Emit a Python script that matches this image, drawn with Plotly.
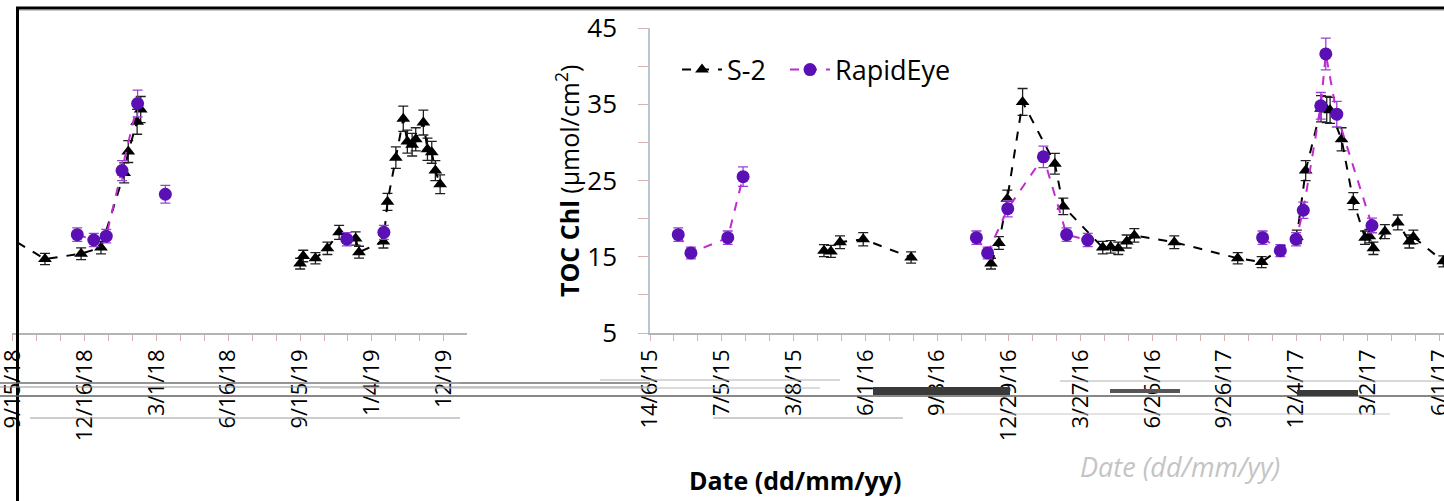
import plotly.graph_objects as go

# ---------------- data (x in months from the first labelled tick of each panel) ----------------
# Left panel
left_s2_x = [-3.46, -1.66, -0.15, 0.68, 1.65, 1.82, 2.19, 2.34, None,
             9.00, 9.13, 9.64, 10.14, 10.63, 11.32, 11.46, 12.48, 12.65, 13.00, 13.31,
             13.48, 13.68, 13.83, 14.15, 14.32, 14.50, 14.65, 14.85]
left_s2_y = [18.1, 14.7, 15.4, 16.2, 26.0, 28.8, 32.7, 34.3, None,
             14.1, 15.1, 14.8, 16.1, 18.2, 17.4, 15.6, 17.0, 22.2, 28.0, 33.1,
             30.1, 29.7, 30.4, 32.6, 29.1, 28.7, 26.3, 24.5]
left_re_x = [-0.31, 0.38, 0.90, 1.56, 2.21, None, 3.37, None, 10.95, None, 12.50]
left_re_y = [17.9, 17.2, 17.7, 26.3, 35.1, None, 23.2, None, 17.3, None, 18.2]

# Right panel
right_s2_x = [7.27, 7.56, 7.94, 8.91, 10.91, None,
              14.25, 14.58, 14.93, 15.57, 16.92, 17.27, 18.92, 19.25, 19.57, 19.92, 20.24,
              21.91, 24.56, 25.56, 27.03, 27.40, 28.04, 28.28, 28.42, 28.90, 29.39, 29.88,
              30.06, 30.23, 30.71, 31.25, 31.73, 31.90, 33.15]
right_s2_y = [15.8, 15.7, 16.9, 17.3, 14.9, None,
              14.1, 16.8, 22.6, 35.3, 27.2, 21.6, 16.2, 16.3, 16.1, 17.0, 17.8,
              16.9, 14.8, 14.3, 17.6, 26.3, 34.4, 34.3, 34.2, 30.4, 22.3, 17.5,
              17.7, 16.1, 18.3, 19.5, 17.0, 17.6, 14.4]
right_re_x = [1.18, 1.71, 3.25, 3.89, None,
              13.64, 14.11, 14.95, 16.44, 17.41, 18.29, None,
              25.60, 26.34, 27.00, 27.30, 28.03, 28.24, 28.70, 30.17]
right_re_y = [17.9, 15.5, 17.5, 25.5, None,
              17.5, 15.5, 21.3, 28.1, 17.9, 17.2, None,
              17.5, 15.8, 17.3, 21.1, 34.8, 41.6, 33.7, 19.1]

left_tickvals = [-3, 0, 3, 6, 9, 12, 15]
left_ticktext = ["9/15/18", "12/16/18", "3/1/18", "6/16/18", "9/15/19", "1/4/19", "12/19"]
right_tickvals = [0, 3, 6, 9, 12, 15, 18, 21, 24, 27, 30, 33]
right_ticktext = ["14/6/15", "7/5/15", "3/8/15", "6/1/16", "9/3/16", "12/29/16",
                  "3/27/16", "6/26/16", "9/26/17", "12/4/17", "3/2/17", "6/1/17"]
y_tickvals = [5, 15, 25, 35, 45]

# ---------------- styling ----------------
W, H = 1444, 501
FONT = "Open Sans"
S2_COL = "black"
RE_MARK = "#5a10b4"
RE_LINE = "#c02cd0"

def px(x):
    return x / W

def py(y):
    return 1 - y / H

fig = go.Figure()

def add_series(x, y, xa, ya, name, show):
    if name == "S-2":
        fig.add_trace(go.Scatter(
            x=x, y=y, xaxis=xa, yaxis=ya, name=name, showlegend=show, legendgroup=name,
            legend="legend",
            mode="lines+markers", connectgaps=False,
            line=dict(color=S2_COL, width=2, dash="dash"),
            marker=dict(symbol="triangle-up", size=12, color=S2_COL),
            error_y=dict(type="percent", value=5, color="#202020", thickness=1.3, width=5),
            cliponaxis=True))
    else:
        fig.add_trace(go.Scatter(
            x=x, y=y, xaxis=xa, yaxis=ya, name=name, showlegend=show, legendgroup=name,
            legend="legend2",
            mode="lines+markers", connectgaps=False,
            line=dict(color=RE_LINE, width=2, dash="dash"),
            marker=dict(symbol="circle", size=13, color=RE_MARK),
            error_y=dict(type="percent", value=5, color="#9a40d8", thickness=1.3, width=5),
            cliponaxis=True))

add_series(left_s2_x, left_s2_y, "x", "y", "S-2", False)
add_series(left_re_x, left_re_y, "x", "y", "RapidEye", False)
add_series(right_s2_x, right_s2_y, "x2", "y2", "S-2", True)
add_series(right_re_x, right_re_y, "x2", "y2", "RapidEye", True)

ydom = [py(333), py(28)]
axis_line = "#b4b4b4"
tick_col = "#dbb0b0"

xtick_font = dict(size=22, family=FONT, color="black")
leg_font = dict(size=27, family=FONT, color="black")

fig.update_layout(
    template="none",
    width=W, height=H,
    margin=dict(l=0, r=0, t=0, b=0, pad=0, autoexpand=False),
    paper_bgcolor="white", plot_bgcolor="white",
    font=dict(family=FONT, color="black"),
    xaxis=dict(domain=[px(11.7), px(466.7)], range=[-3.05, 15.96], anchor="y", automargin=False,
               showgrid=False, zeroline=False, showline=True, linecolor=axis_line, linewidth=1.5,
               tickmode="array", tickvals=left_tickvals, ticktext=left_ticktext,
               tickangle=-90, ticks="outside", ticklen=6, tickcolor=tick_col,
               ticklabeloverflow="allow", tickfont=xtick_font,
               minor=dict(dtick=1, tick0=0, ticks="outside", ticklen=6, tickcolor=tick_col)),
    yaxis=dict(domain=ydom, range=[5, 45], anchor="x", visible=False, automargin=False),
    xaxis2=dict(domain=[px(650), 1.0], range=[0, 33.18], anchor="y2", automargin=False,
                showgrid=False, zeroline=False, showline=True, linecolor=axis_line, linewidth=1.5,
                tickmode="array", tickvals=right_tickvals, ticktext=right_ticktext,
                tickangle=-90, ticks="outside", ticklen=6, tickcolor=tick_col,
                ticklabeloverflow="allow", tickfont=xtick_font,
                minor=dict(dtick=1, tick0=0, ticks="outside", ticklen=6, tickcolor=tick_col)),
    yaxis2=dict(domain=ydom, range=[5, 45], anchor="x2", automargin=False,
                showgrid=False, zeroline=False, showline=True, linecolor="#b8c8cc", linewidth=1.5,
                tickmode="array", tickvals=y_tickvals,
                ticks="outside", ticklen=10, tickcolor=tick_col, ticklabelstandoff=16,
                tickfont=dict(size=26, family=FONT, color="black"),
                minor=dict(dtick=5, tick0=0, ticks="outside", ticklen=10, tickcolor=tick_col)),
    legend=dict(orientation="h", x=px(677), y=py(70), xanchor="left", yanchor="middle",
                font=leg_font, bgcolor="rgba(0,0,0,0)", itemwidth=40),
    legend2=dict(orientation="h", x=px(785), y=py(70), xanchor="left", yanchor="middle",
                 font=leg_font, bgcolor="rgba(0,0,0,0)", itemwidth=40),
)

# y-axis title
fig.add_annotation(text="<b>TOC Chl</b> (µmol/cm<sup>2</sup>)", textangle=-90,
                   x=px(567), y=py(181), xref="paper", yref="paper", showarrow=False,
                   xanchor="center", yanchor="middle",
                   font=dict(size=25, family=FONT, color="black"))
# x-axis title (bold) and ghost copy
fig.add_annotation(text="<b>Date (dd/mm/yy)</b>", x=px(795), y=py(480), xref="paper", yref="paper",
                   xanchor="center", yanchor="middle",
                   showarrow=False, font=dict(size=25, family=FONT, color="black"))
fig.add_annotation(text="<i>Date (dd/mm/yy)</i>", x=px(1180), y=py(466), xref="paper", yref="paper",
                   xanchor="center", yanchor="middle",
                   showarrow=False, font=dict(size=27, family=FONT, color="#c4c4c4"))

shapes = []
# frame border
shapes.append(dict(type="line", xref="paper", yref="paper", x0=px(16), x1=1.0, y0=py(8), y1=py(8),
                   line=dict(color="black", width=3), layer="above"))
shapes.append(dict(type="line", xref="paper", yref="paper", x0=px(17.5), x1=px(17.5), y0=py(7), y1=0,
                   line=dict(color="black", width=3), layer="above"))
shapes.append(dict(type="line", xref="paper", yref="paper", x0=px(19), x1=1.0, y0=py(10.5), y1=py(10.5),
                   line=dict(color="#c8c8c8", width=1), layer="above"))
# glitch streaks across the tick-label band
glitch = [
    (0, 1444, 396, "#606060", 1.5),
    (0, 650, 383, "#707070", 1.5),
    (0, 650, 387, "#909090", 1),
    (30, 460, 418, "#9a9a9a", 1),
    (713, 903, 418, "#9a9a9a", 1),
    (940, 1390, 414, "#c8c8c8", 1),
    (600, 840, 380, "#b0b0b0", 1),
    (1060, 1444, 381, "#b0b0b0", 1),
    (320, 820, 388, "#b8b8b8", 1),
    (300, 460, 383, "#a8a8a8", 1),
]
for x0, x1, yy, c, w in glitch:
    shapes.append(dict(type="line", xref="paper", yref="paper", x0=px(x0), x1=px(x1), y0=py(yy), y1=py(yy),
                       line=dict(color=c, width=w), layer="above"))
bars = [(873, 1010, 387, 395, "#3a3a3a"), (1297, 1358, 390, 396, "#3a3a3a"),
        (1110, 1180, 389, 393, "#555555")]
for x0, x1, y0, y1, c in bars:
    shapes.append(dict(type="rect", xref="paper", yref="paper", x0=px(x0), x1=px(x1), y0=py(y1), y1=py(y0),
                       fillcolor=c, line=dict(width=0), layer="above"))
fig.update_layout(shapes=shapes)

fig.write_html("out.html", config={"displayModeBar": False},
               post_script="document.body.style.margin='0px';")
